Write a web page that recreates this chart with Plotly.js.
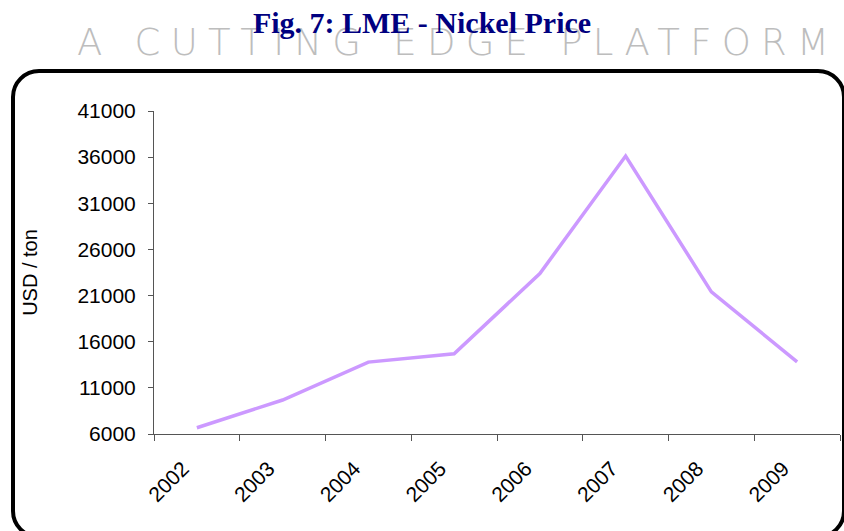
<!DOCTYPE html>
<html>
<head>
<meta charset="utf-8">
<script src="https://cdn.plot.ly/plotly-3.0.1.min.js"></script>
<style>
  html, body { margin:0; padding:0; width:844px; height:531px; overflow:hidden; background:#fff; }
  #wm { position:absolute; left:77px; top:21px; font-family:"DejaVu Sans", sans-serif; font-weight:200;
        font-size:37px; color:#bdbdbd; white-space:nowrap; line-height:44px; z-index:0; }
  #frame { position:absolute; left:11px; top:69px; width:835px; height:470px; box-sizing:border-box;
           border:4px solid #000; border-radius:28px; z-index:2; pointer-events:none; }
  #chart { position:absolute; left:0; top:0; width:844px; height:531px; z-index:1; }
</style>
</head>
<body>
<div id="wm">A CUTTING EDGE PLATFORM</div>
<div id="frame"></div>
<div id="chart"></div>
<script>
const years = ["2002","2003","2004","2005","2006","2007","2008","2009"];
const nickelPrice = [6680, 9680, 13790, 14690, 23390, 36120, 21400, 13820];
const yTicks = [6000, 11000, 16000, 21000, 26000, 31000, 36000, 41000];

// fit watermark width
(function(){
  const wm = document.getElementById('wm');
  const target = 752;
  const n = wm.textContent.length;
  const w = wm.getBoundingClientRect().width;
  wm.style.letterSpacing = ((target - w) / (n - 1)) + 'px';
})();

const trace = {
  x: years,
  y: nickelPrice,
  type: 'scatter',
  mode: 'lines',
  line: { color: '#cc99ff', width: 3.5 },
  hoverinfo: 'x+y'
};

const tickFont = { family: 'Liberation Sans, Arial, sans-serif', size: 21, color: '#000' };

const layout = {
  width: 844, height: 531,
  paper_bgcolor: 'rgba(0,0,0,0)',
  plot_bgcolor: 'rgba(0,0,0,0)',
  margin: { l: 154, r: 4, t: 111, b: 97 },
  showlegend: false,
  title: {
    text: '<b>Fig. 7: LME - Nickel Price</b>',
    font: { family: 'Liberation Serif, serif', size: 30, color: '#000080' },
    x: 0.5, xanchor: 'center', xref: 'container',
    y: 0.958, yanchor: 'middle', yref: 'container'
  },
  xaxis: {
    type: 'category',
    tickmode: 'array', tickvals: years, ticktext: years,
    tickson: 'boundaries',
    ticks: 'outside', ticklen: 6, tickcolor: '#555', tickwidth: 1,
    showline: true, linecolor: '#555', linewidth: 1,
    showgrid: false, zeroline: false,
    tickangle: -45,
    ticklabelstandoff: 13,
    ticklabelshift: -14,
    tickfont: tickFont,
    range: [-0.5, 7.5]
  },
  yaxis: {
    range: [6000, 41000],
    tickmode: 'array', tickvals: yTicks, ticktext: yTicks.map(String),
    ticks: 'outside', ticklen: 5, tickcolor: '#555', tickwidth: 1,
    showline: true, linecolor: '#555', linewidth: 1,
    showgrid: false, zeroline: false,
    ticklabelstandoff: 8,
    tickfont: tickFont,
    title: { text: 'USD / ton', font: { family: 'Liberation Sans, Arial, sans-serif', size: 20, color: '#000' }, standoff: 34 }
  }
};

Plotly.newPlot('chart', [trace], layout, { displayModeBar: false, staticPlot: true });
</script>
</body>
</html>
